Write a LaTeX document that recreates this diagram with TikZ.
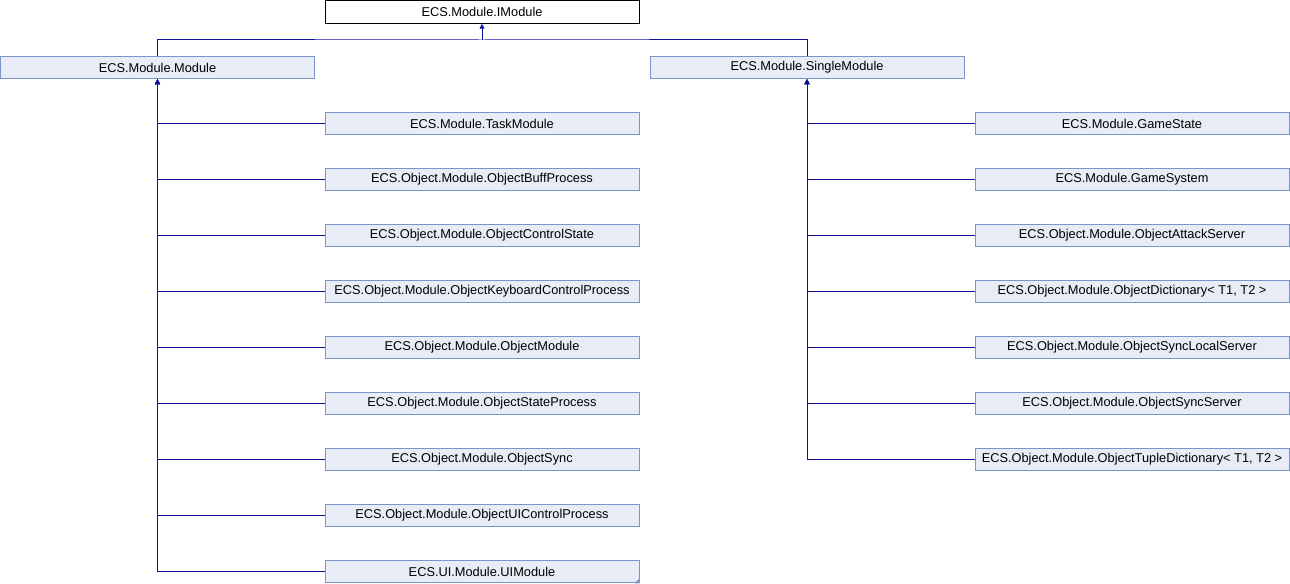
\documentclass[tikz,border=0pt]{standalone}
\usepackage{fontspec}
\setmainfont{Liberation Sans}
\usetikzlibrary{arrows.meta}
\definecolor{boxfill}{HTML}{E8ECF6}
\definecolor{boxline}{HTML}{7D94C8}
\definecolor{edge}{HTML}{10109A}
\tikzset{
  cls/.style={draw=boxline, fill=boxfill, line width=0.75pt, minimum width=235.5pt, minimum height=17pt, inner sep=0pt, font=\fontsize{9.6pt}{11pt}\selectfont},
  root/.style={cls, draw=black, fill=white},
  conn/.style={draw=edge, line width=0.75pt},
  inh/.style={conn, -{Triangle[length=3.6pt, width=3.6pt]}},
}
\begin{document}
\begin{tikzpicture}[x=0.75pt, y=-0.75pt]
\useasboundingbox (0,0) rectangle (1290,584);
\node[root] (imod) at (482,12) {ECS.Module.IModule};
\node[cls] (mod) at (157.5,67.5) {ECS.Module.Module};
\node[cls] (single) at (807,67.5) {ECS.Module.SingleModule};
\coordinate (j) at (482,40);
\draw[inh] (j) -- (imod.south);
\draw[conn] (mod.north) |- (j) -| (single.north);
% left children
\foreach \n/\t [count=\k from 0] in {
  l0/ECS.Module.TaskModule,
  l1/ECS.Object.Module.ObjectBuffProcess,
  l2/ECS.Object.Module.ObjectControlState,
  l3/ECS.Object.Module.ObjectKeyboardControlProcess,
  l4/ECS.Object.Module.ObjectModule,
  l5/ECS.Object.Module.ObjectStateProcess,
  l6/ECS.Object.Module.ObjectSync,
  l7/ECS.Object.Module.ObjectUIControlProcess,
  l8/ECS.UI.Module.UIModule}
{
  \node[cls] (\n) at (482,123.5+56*\k) {\t};
  \draw[inh] (\n.west) -| (mod.south);
}
% right children
\foreach \n/\t [count=\k from 0] in {
  r0/ECS.Module.GameState,
  r1/ECS.Module.GameSystem,
  r2/ECS.Object.Module.ObjectAttackServer,
  r3/{ECS.Object.Module.ObjectDictionary< T1, T2 >},
  r4/ECS.Object.Module.ObjectSyncLocalServer,
  r5/ECS.Object.Module.ObjectSyncServer,
  r6/{ECS.Object.Module.ObjectTupleDictionary< T1, T2 >}}
{
  \node[cls] (\n) at (1132,123.5+56*\k) {\t};
  \draw[inh] (\n.west) -| (single.south);
}
% truncation marker
\fill[boxline] (l8.south east) -- ++(-5,0) -- ++(5,-5) -- cycle;
\end{tikzpicture}
\end{document}
